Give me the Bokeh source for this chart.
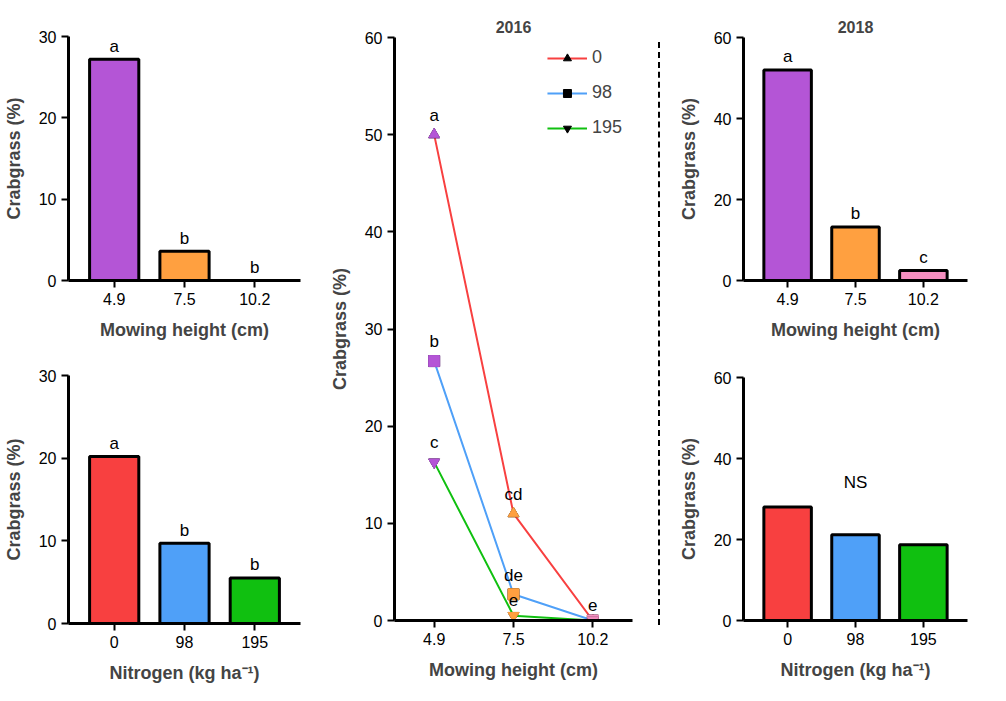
from bokeh.plotting import figure
from bokeh.layouts import row, column
from bokeh.models import Div, ColumnDataSource, Legend, LegendItem, Range1d, FactorRange
from bokeh.core.properties import value
from bokeh.embed import file_html
from bokeh.resources import INLINE

FONT = "Liberation Sans"
heights = ["4.9", "7.5", "10.2"]
nitro = ["0", "98", "195"]
c_h = ["#b455d6", "#ffa040", "#f58fc0"]
c_n = ["#f84040", "#4fa0f8", "#10c010"]

m16 = [27.2, 3.6, 0.0]; m16_lab = ["a", "b", "b"]
n16 = [20.2, 9.7, 5.5]; n16_lab = ["a", "b", "b"]
m18 = [52.0, 13.2, 2.5]; m18_lab = ["a", "b", "c"]
n18 = [28.0, 21.2, 18.7]
line0 = [50.0, 11.0, 0.0]
line98 = [26.7, 2.7, 0.0]
line195 = [16.3, 0.5, 0.0]
lab0 = ["a", "cd", "e"]; lab98 = ["b", "de", ""]; lab195 = ["c", "e", ""]

def style(p, xlabel):
    p.xgrid.visible = False; p.ygrid.visible = False
    p.outline_line_color = None
    for ax in (p.xaxis[0], p.yaxis[0]):
        ax.axis_line_width = 3
        ax.major_tick_line_width = 2
        ax.major_tick_out = 7; ax.major_tick_in = 0
        ax.minor_tick_line_color = None
        ax.major_label_text_font = FONT
        ax.major_label_text_font_size = "16px"
        ax.major_label_text_color = "black"
        ax.axis_label_text_font = FONT
        ax.axis_label_text_font_style = "bold"
        ax.axis_label_text_font_size = "18px"
        ax.axis_label_standoff = 12
    p.xaxis.axis_label = xlabel
    p.yaxis.axis_label = "Crabgrass (%)"

def set_title(p):
    p.title.align = "center"; p.title.text_font = FONT
    p.title.text_font_size = "16px"; p.title.text_font_style = "bold"

def bars(cats, vals, cols, labs, ymax, step, xlabel, w, h, bl, bt, br, title=None, ns=None):
    p = figure(x_range=FactorRange(*cats, range_padding=0.1), y_range=Range1d(0, ymax),
               width=w, height=h, min_border_left=bl, min_border_top=bt, min_border_right=br,
               min_border_bottom=65, output_backend="svg", toolbar_location=None,
               title=title)
    src = ColumnDataSource(dict(x=cats, top=vals, c=cols, lab=labs if labs else [""] * 3,
                                ly=[v + ymax * 0.015 for v in vals]))
    p.vbar(x="x", top="top", width=0.7, source=src, fill_color="c", line_color="black", line_width=3)
    p.text(x="x", y="ly", text="lab", source=src, text_align="center", text_baseline="bottom",
           text_font_size="17px", text_font=value(FONT))
    if ns:
        p.text(x=[cats[1]], y=[ns], text=["NS"], text_align="center", text_baseline="middle",
               text_font_size="17px", text_font=value(FONT))
    p.yaxis.ticker = list(range(0, ymax + 1, step))
    style(p, xlabel)
    if title:
        set_title(p)
    return p

p1 = bars(heights, m16, c_h, m16_lab, 30, 10, "Mowing height (cm)", 305, 345, 52, 36, 5)
p2 = bars(nitro, n16, c_n, n16_lab, 30, 10, "Nitrogen (kg ha\u207b\u00b9)", 305, 343, 52, 30, 5)

pm = figure(x_range=FactorRange(*heights, range_padding=0.0), y_range=Range1d(0, 60),
            width=340, height=685, min_border_left=89, min_border_top=37, min_border_right=13,
            min_border_bottom=65, output_backend="svg", toolbar_location=None, title="2016")
set_title(pm)
items = []
for ys, labs, col, mk, name in [(line0, lab0, c_n[0], "triangle", "0"),
                                (line98, lab98, c_n[1], "square", "98"),
                                (line195, lab195, c_n[2], "inverted_triangle", "195")]:
    src = ColumnDataSource(dict(x=heights, y=ys, c=c_h, lab=labs,
                                ly=[v + 1.0 for v in ys]))
    l = pm.line("x", "y", source=src, line_color=col, line_width=2)
    blk = pm.scatter("x", "y", source=src, marker=mk, size=11, fill_color="black", line_color="black")
    pm.scatter("x", "y", source=src, marker=mk, size=11, fill_color="c", line_color="c")
    pm.text(x="x", y="ly", text="lab", source=src, text_align="center", text_baseline="bottom",
            text_font_size="17px", text_font=value(FONT))
    items.append(LegendItem(label=name, renderers=[l, blk]))
leg = Legend(items=items, location="top_right", border_line_color=None, background_fill_alpha=0,
             label_text_font=FONT, label_text_font_size="18px", glyph_width=40, spacing=14)
pm.add_layout(leg)
pm.yaxis.ticker = list(range(0, 61, 10))
style(pm, "Mowing height (cm)")

div = Div(text='<div style="border-left:2px dashed black;height:583px;margin-top:37px;margin-left:8px"></div>',
          width=20, height=685)

p3 = bars(heights, m18, c_h, m18_lab, 60, 20, "Mowing height (cm)", 325, 345, 49, 37, 33, title="2018")
p4 = bars(nitro, n18, c_n, None, 60, 20, "Nitrogen (kg ha\u207b\u00b9)", 325, 340, 49, 32, 33, ns=34)

layout = row(column(p1, p2), pm, div, column(p3, p4))
open("out.html", "w").write(file_html(layout, INLINE))
